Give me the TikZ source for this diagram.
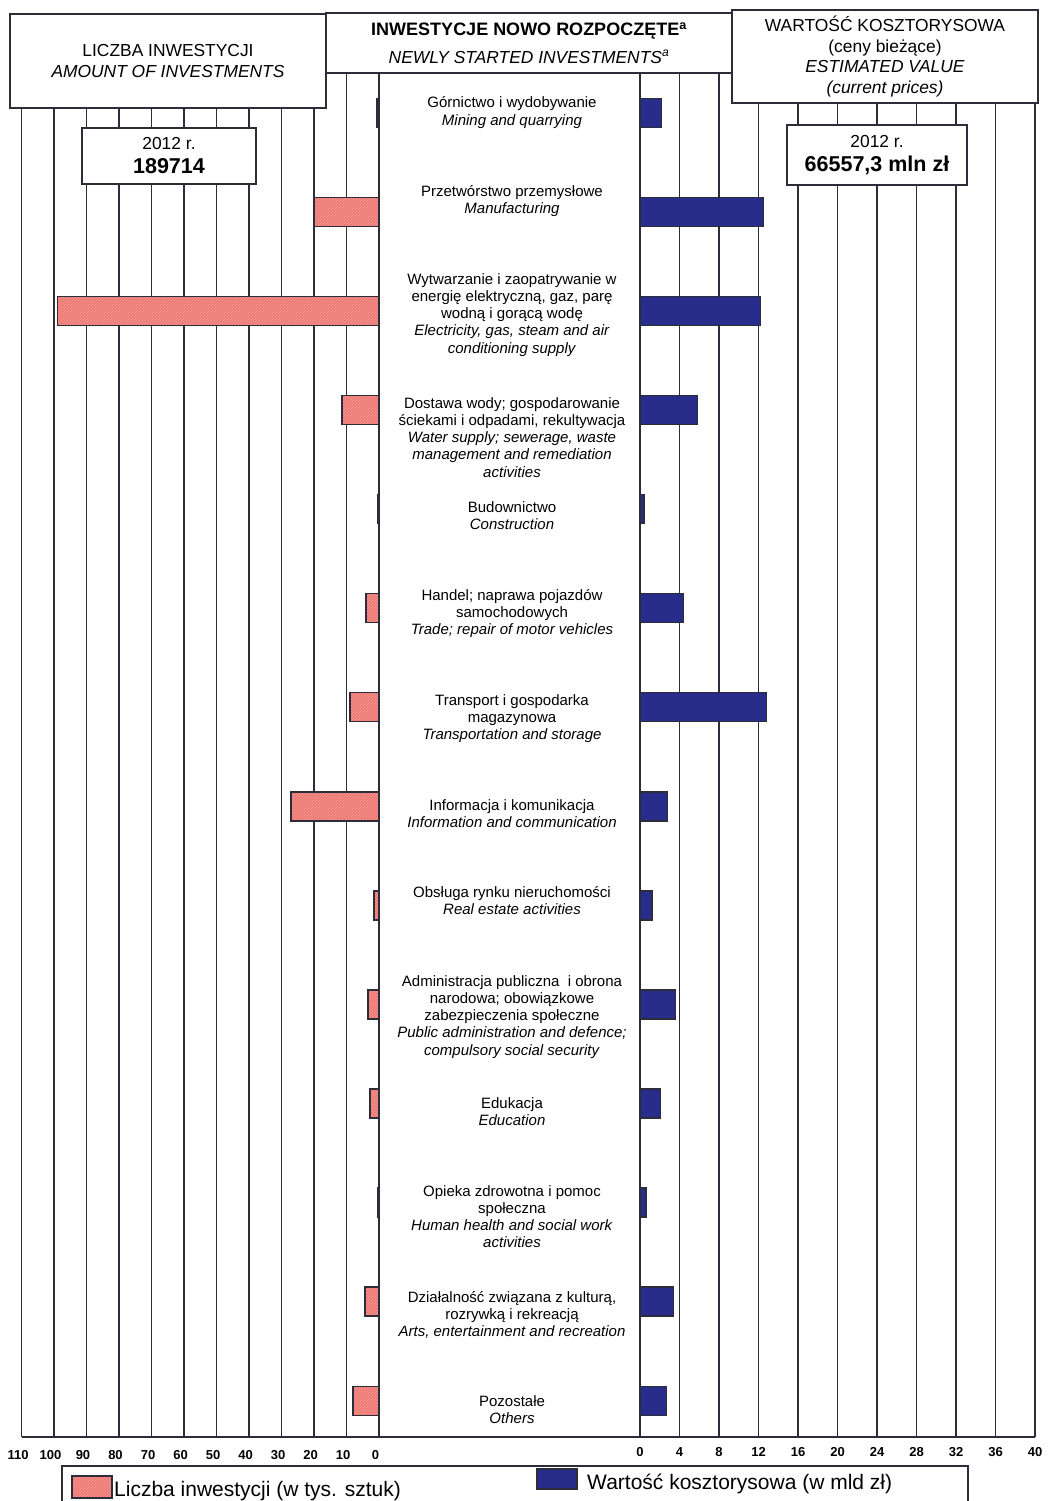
\documentclass[tikz,border=0pt]{standalone}
\usepackage{fontspec}
\setmainfont{Liberation Sans}
\usetikzlibrary{positioning, patterns}
\definecolor{barred}{RGB}{238,118,112}
\definecolor{barblue}{RGB}{40,45,140}
\definecolor{gridgray}{RGB}{45,45,58}
\tikzset{
  gridline/.style={line width=1.4pt, draw=gridgray},
  headbox/.style={draw=gridgray, line width=1.4pt, fill=white, align=center, inner sep=0pt},
  redbar/.style={preaction={fill=barred}, pattern=north east lines, pattern color=barred!70!white, draw=gridgray, line width=1.3pt},
  bluebar/.style={fill=barblue, draw=gridgray, line width=1.3pt},
  catlabel/.style={align=center, inner sep=0pt, anchor=base, font=\fontsize{15}{17.3}\selectfont},
  axislabel/.style={inner sep=0pt, font=\fontsize{13}{15}\selectfont\bfseries},
  legendtext/.style={inner sep=0pt, anchor=base west, font=\fontsize{21}{24}\selectfont},
}

\begin{document}
\begin{tikzpicture}[x=1pt, y=-1pt]
	\useasboundingbox (0,0) rectangle (1049,1501);
	\fill[white] (0,0) rectangle (1049,1501);
	\def \zl {379}
	\def \zr {640}
	% grid
	\foreach \k in {1,...,11}
		\draw[gridline] ({\zl-32.5*\k},20) -- ({\zl-32.5*\k},1437);
	\foreach \k in {1,...,10}
		\draw[gridline] ({\zr+39.5*\k},20) -- ({\zr+39.5*\k},1437);
	\draw[gridline] (\zl,73) -- (\zl,1437);
	\draw[gridline] (\zr,73) -- (\zr,1437);
	\draw[gridline] ({\zl-32.5*11},1437) -- ({\zr+39.5*10},1437);

	% headers
	\node[headbox, minimum width=316pt, minimum height=94pt, font=\fontsize{17.4}{20.5}\selectfont] (countHead) at (168,61)
		{LICZBA INWESTYCJI\\\textit{AMOUNT OF INVESTMENTS}};
	\node[headbox, minimum width=406pt, minimum height=60pt, font=\fontsize{17.4}{20.5}\selectfont] (mainHead) at (529,43)
		{\fontsize{18}{20.5}\selectfont\bfseries INWESTYCJE NOWO ROZPOCZĘTE\textsuperscript{a}\\[7pt]\textit{NEWLY STARTED INVESTMENTS\textsuperscript{a}}};
	\node[headbox, minimum width=306pt, minimum height=93pt, font=\fontsize{17.4}{20.7}\selectfont] (valueHead) at (885,56.5)
		{WARTOŚĆ KOSZTORYSOWA\\(ceny bieżące)\\\textit{ESTIMATED VALUE}\\\textit{(current prices)}};

	% totals
	\node[headbox, minimum width=174pt, minimum height=56pt, font=\fontsize{17.4}{24}\selectfont] (countTotal) at (169,156)
		{2012 r.\\{\fontsize{21.5}{24}\selectfont\bfseries 189714}};
	\node[headbox, minimum width=180pt, minimum height=60pt, font=\fontsize{17.4}{24}\selectfont] (valueTotal) at (877,155)
		{2012 r.\\{\fontsize{21.5}{24}\selectfont\bfseries 66557,3 mln zł}};

	% bars: category / count (thousands) / value (bln zl)
	\foreach \i/\r/\b in {1/0.6/2.2, 2/20/12.5, 3/99/12.2, 4/11.4/5.8, 5/0.5/0.4, 6/4/4.4, 7/8.9/12.8,
			8/27.1/2.8, 9/1.5/1.2, 10/3.4/3.6, 11/2.8/2.1, 12/0.5/0.6, 13/4.3/3.4, 14/8/2.7} {
		\pgfmathsetmacro \yc {113+(\i-1)*99.05}
		\draw[redbar] ({\zl-3.25*\r},{\yc-14.5}) rectangle (\zl,{\yc+14.5});
		\draw[bluebar] (\zr,{\yc-14.5}) rectangle ({\zr+9.875*\b},{\yc+14.5});
	}

	% category labels (base = last line)
	\node[catlabel] (mining) at (512,125.3) {Górnictwo i wydobywanie\\\textit{Mining and quarrying}};
	\node[catlabel] (manufacturing) at (512,213.3) {Przetwórstwo przemysłowe\\\textit{Manufacturing}};
	\node[catlabel] (energy) at (512,353.2) {Wytwarzanie i zaopatrywanie w\\energię elektryczną, gaz, parę\\wodną i gorącą wodę\\\textit{Electricity, gas, steam and air}\\\textit{conditioning supply}};
	\node[catlabel] (water) at (512,477.2) {Dostawa wody; gospodarowanie\\ściekami i odpadami, rekultywacja\\\textit{Water supply; sewerage, waste}\\\textit{management and remediation}\\\textit{activities}};
	\node[catlabel] (construction) at (512,529.3) {Budownictwo\\\textit{Construction}};
	\node[catlabel] (trade) at (512,634.6) {Handel; naprawa pojazdów\\samochodowych\\\textit{Trade; repair of motor vehicles}};
	\node[catlabel] (transport) at (512,739.6) {Transport i gospodarka\\magazynowa\\\textit{Transportation and storage}};
	\node[catlabel] (info) at (512,827.3) {Informacja i komunikacja\\\textit{Information and communication}};
	\node[catlabel] (realestate) at (512,914.3) {Obsługa rynku nieruchomości\\\textit{Real estate activities}};
	\node[catlabel] (admin) at (512,1055.2) {Administracja publiczna\ \ i obrona\\narodowa; obowiązkowe\\zabezpieczenia społeczne\\\textit{Public administration and defence;}\\\textit{compulsory social security}};
	\node[catlabel] (education) at (512,1125.3) {Edukacja\\\textit{Education}};
	\node[catlabel] (health) at (512,1247.9) {Opieka zdrowotna i pomoc\\społeczna\\\textit{Human health and social work}\\\textit{activities}};
	\node[catlabel] (arts) at (512,1336.6) {Działalność związana z kulturą,\\rozrywką i rekreacją\\\textit{Arts, entertainment and recreation}};
	\node[catlabel] (others) at (512,1423.3) {Pozostałe\\\textit{Others}};

	% axis labels
	\foreach \k in {0,...,11}
		\node[axislabel] (lx\k) at ({\zl-3.5-32.5*\k},1455) {\pgfmathparse{int(10*\k)}\pgfmathresult};
	\foreach \k in {0,...,10}
		\node[axislabel] (rx\k) at ({\zr+39.5*\k},1452) {\pgfmathparse{int(4*\k)}\pgfmathresult};

	% legend
	\draw[gridline] (62,1501) |- (968,1466) -- (968,1501);
	\node[redbar, minimum width=40pt, minimum height=22pt, inner sep=0pt] (countKey) at (92,1487) {};
	\node[legendtext] (countKeyText) at (114,1496) {Liczba inwestycji (w tys. sztuk)};
	\node[bluebar, minimum width=40pt, minimum height=20pt, inner sep=0pt] (valueKey) at (557,1479) {};
	\node[legendtext] (valueKeyText) at (587,1489) {Wartość kosztorysowa (w mld zł)};
\end{tikzpicture}
\end{document}
